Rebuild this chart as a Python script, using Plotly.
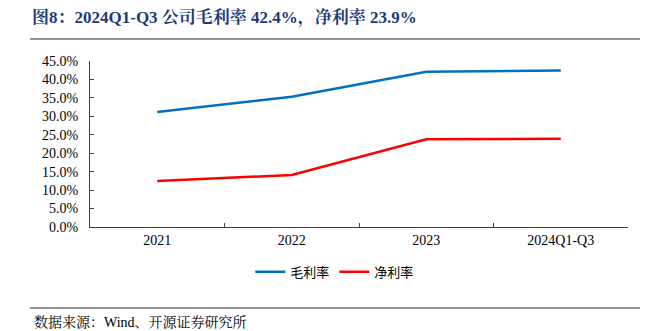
import plotly.graph_objects as go

categories = ["2021", "2022", "2023", "2024Q1-Q3"]
gross_margin = [31.2, 35.3, 42.1, 42.4]
net_margin = [12.5, 14.1, 23.8, 23.9]
series_names = ["毛利率", "净利率"]
y_ticks = [0, 5, 10, 15, 20, 25, 30, 35, 40, 45]
y_tick_labels = [f"{v:.1f}%" for v in y_ticks]

serif = "Times New Roman, Liberation Serif, Noto Serif CJK SC, Noto Sans CJK SC, serif"

fig = go.Figure()
fig.add_trace(go.Scatter(x=categories, y=gross_margin, mode="lines", name=series_names[0],
                         line=dict(color="#0070C0", width=2.5)))
fig.add_trace(go.Scatter(x=categories, y=net_margin, mode="lines", name=series_names[1],
                         line=dict(color="#FF0000", width=2.5)))

def hline(px, color, x0=30, x1=640, w=1.5):
    return dict(type="line", xref="paper", yref="paper",
                x0=(x0-90)/538, x1=(x1-90)/538,
                y0=(227-px)/166, y1=(227-px)/166, layer="above",
                line=dict(color=color, width=w))

fig.update_layout(
    width=672, height=331,
    margin=dict(l=90, r=44, t=61, b=104),
    paper_bgcolor="white", plot_bgcolor="white",
    font=dict(family=serif, size=12, color="black"),
    showlegend=True,
    legend=dict(orientation="h", x=0.455, y=-0.27, xanchor="center", yanchor="middle",
                font=dict(family="Noto Sans CJK SC", size=13, color="black"),
                itemwidth=30, tracegroupgap=0, bgcolor="rgba(0,0,0,0)"),
    xaxis=dict(
        type="category", showline=True, linecolor="#404040", linewidth=1,
        ticks="inside", ticklen=4, tickcolor="#404040", tickson="boundaries",
        showgrid=False, zeroline=False,
        tickfont=dict(family=serif, size=14, color="black"),
        range=[-0.5, 3.5],
    ),
    yaxis=dict(
        range=[0, 45], tickvals=y_ticks, ticktext=y_tick_labels,
        showline=True, linecolor="#404040", linewidth=1,
        ticks="inside", ticklen=4, tickcolor="#404040",
        showgrid=False, zeroline=False, ticklabelstandoff=8,
        tickfont=dict(family=serif, size=14, color="black"),
    ),
    shapes=[
        hline(39, "#707070"),
        hline(308, "#707070"),
    ],
    annotations=[
        dict(text="<b>图8：2024Q1-Q3 公司毛利率 42.4%，净利率 23.9%</b>", xref="paper", yref="paper",
             x=-(90-30)/538, y=(227-18)/166, xanchor="left", yanchor="middle", showarrow=False,
             font=dict(family=serif, size=17, color="#1F3A7A")),
        dict(text="数据来源：Wind、开源证券研究所", xref="paper", yref="paper",
             x=-(90-32)/538, y=-(322-227)/166, xanchor="left", yanchor="middle", showarrow=False,
             font=dict(family=serif, size=14, color="black")),
    ],
)
fig.write_html("out.html")
